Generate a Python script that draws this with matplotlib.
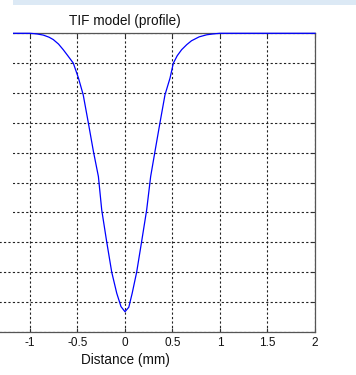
import matplotlib
matplotlib.use("Agg")
import matplotlib.pyplot as plt
from matplotlib.patches import Rectangle

# Data
dist_mm = [-2.0, -1.0, -0.93, -0.86, -0.80, -0.755, -0.70, -0.65, -0.60, -0.544, -0.49, -0.44,
           -0.386, -0.333, -0.28, -0.245, -0.193, -0.14, -0.087, -0.042, 0.0, 0.04,
           0.075, 0.123, 0.175, 0.228, 0.27, 0.316, 0.368, 0.421, 0.474, 0.509,
           0.55, 0.596, 0.65, 0.70, 0.78, 0.86, 0.93, 1.0, 2.0]
profile = [0.0, 0.0, -0.002, -0.006, -0.013, -0.021, -0.036, -0.055, -0.076, -0.10, -0.15, -0.206,
           -0.30, -0.395, -0.48, -0.592, -0.698, -0.80, -0.871, -0.916, -0.933, -0.918,
           -0.872, -0.80, -0.698, -0.592, -0.48, -0.395, -0.30, -0.206, -0.15, -0.10,
           -0.075, -0.055, -0.038, -0.025, -0.012, -0.005, -0.002, 0.0, 0.0]
xticks = [-2, -1.5, -1, -0.5, 0, 0.5, 1, 1.5, 2]
xticklabels = ["-2", "-1.5", "-1", "-0.5", "0", "0.5", "1", "1.5", "2"]
yticks = [-1.0, -0.9, -0.8, -0.7, -0.6, -0.5, -0.4, -0.3, -0.2, -0.1, 0.0]

plt.rcParams['font.family'] = ['Liberation Sans', 'DejaVu Sans']

W, H = 356, 375
fig = plt.figure(figsize=(W / 100, H / 100), dpi=100)
left_px, right_px, top_px, bot_px = -65, 315, 33.3, 331.7
ax = fig.add_axes([left_px / W, 1 - bot_px / H, (right_px - left_px) / W, (bot_px - top_px) / H])

ax.plot(dist_mm, profile, color='#0000ff', lw=0.9, zorder=3, clip_on=False)
ax.set_xlim(-2, 2)
ax.set_ylim(-1, 0)
ax.set_xticks(xticks)
ax.set_xticklabels(xticklabels)
# labels for -2 and -1.5 lie outside the cropped picture, as in the reference
for lab, v in zip(ax.get_xticklabels(), xticks):
    if v < -1:
        lab.set_visible(False)
ax.set_yticks(yticks)
ax.set_yticklabels([])
ax.grid(True, color='#222222', linestyle=(0, (2, 2)), linewidth=0.8)
ax.tick_params(direction='in', length=3, labelsize=8.5, pad=4, colors='#333333',
               labelcolor='#111111', top=True, right=True)
for s in ax.spines.values():
    s.set_color('#555555')
    s.set_linewidth(0.9)
ax.set_title("TIF model (profile)", fontsize=9.8, pad=6, color='#111111')
ax.set_xlabel("Distance (mm)", fontsize=9.8, labelpad=3, color='#111111')

# light blue band at top and white left margin (as in reference)
fig.add_artist(Rectangle((12 / W, 1 - 5 / H), 1, 5 / H, transform=fig.transFigure,
                         facecolor='#dce9f5', edgecolor='none', zorder=10))
fig.add_artist(Rectangle((0, 1 - 225 / H), 12.5 / W, 225 / H, transform=fig.transFigure,
                         facecolor='white', edgecolor='none', zorder=10))

fig.savefig("out.png", dpi=100)
